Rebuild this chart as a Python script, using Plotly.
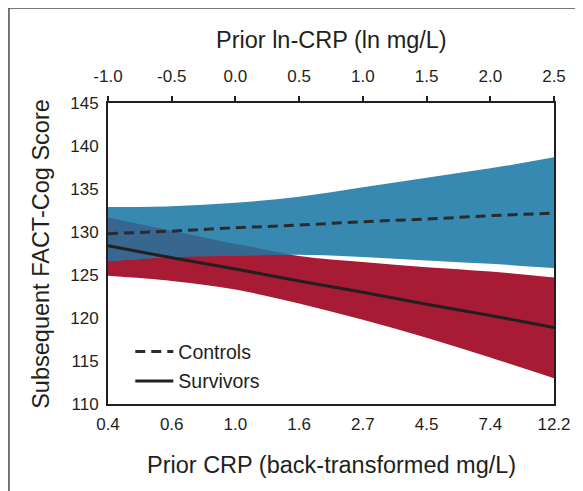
import numpy as np
import plotly.graph_objects as go

# ---- data ----
ln_crp = [-1.0, -0.5, 0.0, 0.5, 1.0, 1.5, 2.0, 2.5]
crp_labels = ["0.4", "0.6", "1.0", "1.6", "2.7", "4.5", "7.4", "12.2"]
ln_labels = ["-1.0", "-0.5", "0.0", "0.5", "1.0", "1.5", "2.0", "2.5"]
y_ticks = [110, 115, 120, 125, 130, 135, 140, 145]

controls_mean = [129.8, 130.1, 130.5, 130.8, 131.2, 131.5, 131.9, 132.2]
controls_upper = [132.9, 133.0, 133.4, 134.1, 135.2, 136.3, 137.4, 138.7]
controls_lower = [126.6, 127.1, 127.3, 127.35, 127.1, 126.7, 126.3, 125.8]

survivors_mean = [128.4, 127.0, 125.7, 124.3, 123.0, 121.6, 120.3, 118.9]
survivors_upper = [131.7, 130.2, 128.6, 127.2, 126.5, 125.9, 125.4, 124.7]
survivors_lower = [124.9, 124.3, 123.3, 121.7, 119.8, 117.7, 115.4, 113.0]

BLUE = "#3889B2"
RED = "#A81B34"
OVERLAP = "#37668F"
INK = "#231F20"
TITLE_FONT = "Liberation Sans, Arial, Helvetica, sans-serif"
TICK_FONT = "Liberation Sans, Arial, Helvetica, sans-serif"

fig = go.Figure()


def add_band(x, lo, hi, color, shape="spline"):
    fig.add_trace(go.Scatter(x=list(x), y=list(lo), mode="lines",
                             line=dict(width=0, shape=shape, color=color),
                             hoverinfo="skip", showlegend=False))
    fig.add_trace(go.Scatter(x=list(x), y=list(hi), mode="lines", fill="tonexty",
                             fillcolor=color, line=dict(width=0, shape=shape, color=color),
                             hoverinfo="skip", showlegend=False))


add_band(ln_crp, survivors_lower, survivors_upper, RED)
add_band(ln_crp, controls_lower, controls_upper, BLUE)

# overlap of the two confidence bands (derived from the band edges above)
xs = np.linspace(ln_crp[0], ln_crp[-1], 701)
lo = np.maximum(np.interp(xs, ln_crp, controls_lower), np.interp(xs, ln_crp, survivors_lower))
hi = np.minimum(np.interp(xs, ln_crp, controls_upper), np.interp(xs, ln_crp, survivors_upper))
m = hi > lo
if m.any():
    fig.add_trace(go.Scatter(x=list(xs[m]) + list(xs[m])[::-1],
                             y=list(hi[m]) + list(lo[m])[::-1],
                             fill="toself", fillcolor=OVERLAP, line=dict(width=0),
                             mode="lines", hoverinfo="skip", showlegend=False))

fig.add_trace(go.Scatter(x=ln_crp, y=controls_mean, mode="lines", name="Controls",
                         legendgroup="c",
                         line=dict(color="#2B2B2B", width=3, dash="10px,6px")))
fig.add_trace(go.Scatter(x=ln_crp, y=survivors_mean, mode="lines", name="Survivors",
                         legendgroup="s",
                         line=dict(color="#231F20", width=3)))

# invisible trace to activate the top axis
fig.add_trace(go.Scatter(x=ln_crp, y=controls_mean, xaxis="x2", mode="lines",
                         line=dict(width=0), opacity=0, showlegend=False, hoverinfo="skip"))

# page has an 8px body margin, so figure coords = screen coords - 8
OFF = 8
W, H = 583 - OFF, 491 - OFF
L, T = 108 - OFF, 103 - OFF
PR, PB = 556 - OFF, 404 - OFF
R, B = W - PR, H - PB
pw, ph = PR - L, PB - T


def py(screen_y):
    """paper y for a screen y coordinate"""
    return (PB - (screen_y - OFF)) / ph


def px(screen_x):
    return ((screen_x - OFF) - L) / pw


fig.update_layout(
    width=W, height=H,
    margin=dict(l=L, r=R, t=T, b=B),
    paper_bgcolor="white", plot_bgcolor="white",
    showlegend=True,
    legend=dict(x=0.05, y=0.238, xanchor="left", yanchor="top",
                bgcolor="rgba(0,0,0,0)", borderwidth=0,
                font=dict(family=TICK_FONT, size=19.5, color=INK),
                traceorder="grouped", tracegroupgap=1, itemwidth=38),
    xaxis=dict(range=[-1.0, 2.5], tickvals=ln_crp, ticktext=crp_labels,
               showgrid=False, zeroline=False, showline=True, mirror=True,
               linecolor=INK, linewidth=2, ticks="", ticklabelstandoff=4,
               tickfont=dict(family=TICK_FONT, size=17, color=INK)),
    xaxis2=dict(range=[-1.0, 2.5], tickvals=ln_crp, ticktext=ln_labels,
                overlaying="x", side="top", showgrid=False, zeroline=False,
                showline=False, ticks="outside", ticklen=6, tickwidth=1.5,
                tickcolor=INK, ticklabelstandoff=7,
                tickfont=dict(family=TICK_FONT, size=17, color=INK)),
    yaxis=dict(range=[110, 145], tickvals=y_ticks,
               showgrid=False, zeroline=False, showline=True, mirror=True,
               linecolor=INK, linewidth=2, ticks="", ticklabelstandoff=4,
               tickfont=dict(family=TICK_FONT, size=17, color=INK)),
)

annotations = [
    dict(text="Prior ln-CRP (ln mg/L)", xref="paper", yref="paper",
         x=0.5, y=py(40), xanchor="center", yanchor="middle",
         showarrow=False, font=dict(family=TITLE_FONT, size=23.5, color=INK)),
    dict(text="Prior CRP (back-transformed mg/L)", xref="paper", yref="paper",
         x=0.5, y=py(465), xanchor="center", yanchor="middle",
         showarrow=False, font=dict(family=TITLE_FONT, size=23.5, color=INK)),
    dict(text="Subsequent FACT-Cog Score", xref="paper", yref="paper",
         x=px(40), y=0.5, xanchor="center", yanchor="middle", textangle=-90,
         showarrow=False, font=dict(family=TITLE_FONT, size=23.5, color=INK)),
]
fig.update_layout(annotations=annotations)

# outer frame of the figure panel
fig.add_shape(type="rect", xref="paper", yref="paper",
              x0=px(8.5), x1=1.3, y0=-0.4, y1=py(8),
              line=dict(color="#4D4D4D", width=1.5), fillcolor="rgba(0,0,0,0)",
              layer="below")

fig.write_html("out.html")
